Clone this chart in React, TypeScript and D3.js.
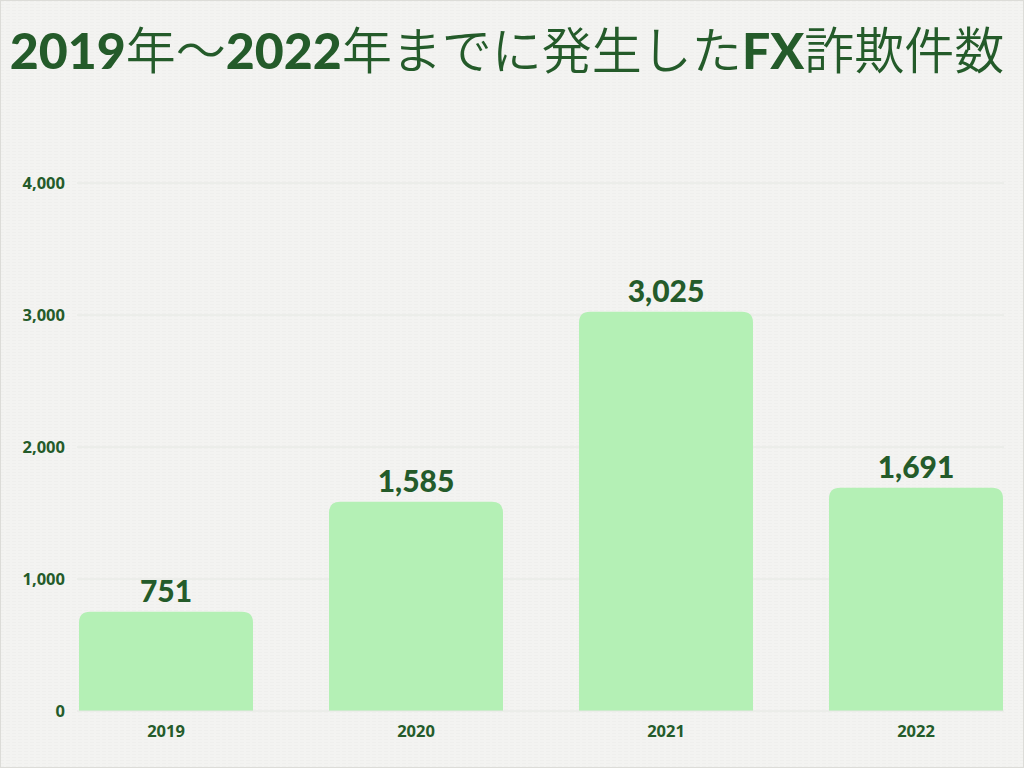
import React from "react";
import * as d3 from "d3";

const years = ["2019", "2020", "2021", "2022"];
const counts = [751, 1585, 3025, 1691];
const yTicks = [0, 1000, 2000, 3000, 4000];

const W = 1024;
const H = 768;
const GREEN = "#245b2a";
const BAR = "#b4f0b5";

export default function App() {
  const x = d3.scaleBand<string>().domain(years).range([79, 1003]).paddingInner(0.304).paddingOuter(0);
  const y = d3.scaleLinear().domain([0, 4000]).range([711, 183]);
  const fmt = d3.format(",");
  const r = 11;

  const barPath = (xs: number, w: number, yt: number, yb: number) => {
    const rr = Math.min(r, (yb - yt));
    return `M${xs},${yb}V${yt + rr}Q${xs},${yt} ${xs + rr},${yt}H${xs + w - rr}Q${xs + w},${yt} ${xs + w},${yt + rr}V${yb}Z`;
  };

  return (
    <svg width={W} height={H} style={{ position: "absolute", left: 0, top: 0, display: "block" }}>
      <defs>
        <pattern id="tex" width="6" height="3" patternUnits="userSpaceOnUse">
          <rect width="6" height="3" fill="#f3f3f1" />
          <rect y="1" width="4" height="1" fill="#efefed" />
        </pattern>
      </defs>
      <rect x={0} y={0} width={W} height={H} fill="url(#tex)" />
      <rect x={0.5} y={0.5} width={W - 1} height={H - 1} fill="none" stroke="#dcdcd8" />
      <text
        x={507}
        y={69}
        textAnchor="middle"
        fill={GREEN}
        fontSize={50}
        fontFamily="'Noto Sans CJK JP', sans-serif"
      >
        <tspan fontWeight={900} fontFamily="Lato, 'Noto Sans CJK JP'">2019</tspan>
        <tspan fontWeight={350}>年～</tspan>
        <tspan fontWeight={900} fontFamily="Lato, 'Noto Sans CJK JP'">2022</tspan>
        <tspan fontWeight={350}>年までに発生した</tspan>
        <tspan fontWeight={900} fontFamily="Lato, 'Noto Sans CJK JP'">FX</tspan>
        <tspan fontWeight={350}>詐欺件数</tspan>
      </text>
      {yTicks.map((t) => (
        <g key={t}>
          {t > 0 && (
            <line x1={77} x2={1004} y1={y(t)} y2={y(t)} stroke="#e4e7e2" strokeWidth={1} />
          )}
          <text
            x={65}
            y={y(t)}
            dy="0.35em"
            textAnchor="end"
            fill={GREEN}
            fontSize={16.5}
            fontWeight={700}
            fontFamily="'Open Sans', sans-serif"
          >
            {fmt(t)}
          </text>
        </g>
      ))}
      {years.map((yr, i) => {
        const xs = x(yr)!;
        const w = x.bandwidth();
        const yt = y(counts[i]);
        return (
          <g key={yr}>
            <path d={barPath(xs, w, yt, y(0))} fill={BAR} />
            <text
              x={xs + w / 2}
              y={yt - 10}
              textAnchor="middle"
              fill={GREEN}
              fontSize={30}
              fontWeight={900}
              fontFamily="Lato, sans-serif"
            >
              {fmt(counts[i])}
            </text>
            <text
              x={xs + w / 2}
              y={737}
              textAnchor="middle"
              fill={GREEN}
              fontSize={16.5}
              fontWeight={700}
              fontFamily="'Open Sans', sans-serif"
            >
              {yr}
            </text>
          </g>
        );
      })}
      <line x1={77} x2={1004} y1={y(0)} y2={y(0)} stroke="#e4e7e2" strokeWidth={1} />
    </svg>
  );
}
